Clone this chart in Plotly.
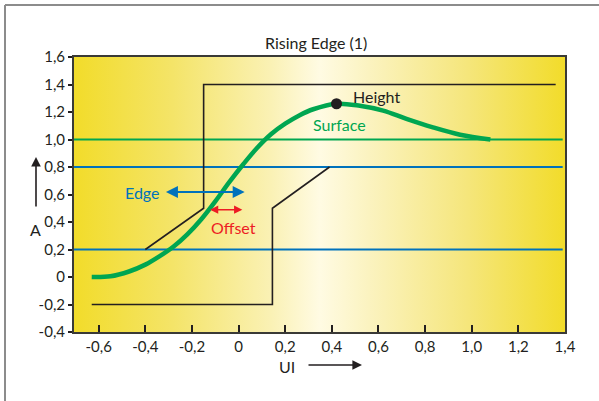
import plotly.graph_objects as go

# ---- data ----
x_range = [-0.706, 1.4]
y_range = [-0.4, 1.6]

x_ticks = [-0.6, -0.4, -0.2, 0, 0.2, 0.4, 0.6, 0.8, 1.0, 1.2, 1.4]
x_labels = ["-0,6", "-0,4", "-0,2", "0", "0,2", "0,4", "0,6", "0,8", "1,0", "1,2", "1,4"]
y_ticks = [-0.4, -0.2, 0, 0.2, 0.4, 0.6, 0.8, 1.0, 1.2, 1.4, 1.6]
y_labels = ["-0,4", "-0,2", "0", "0,2", "0,4", "0,6", "0,8", "1,0", "1,2", "1,4", "1,6"]

surface_x = [-0.63, -0.55, -0.47, -0.40, -0.34, -0.28, -0.22, -0.16, -0.10, -0.04,
             0.02, 0.08, 0.14, 0.20, 0.26, 0.32, 0.42, 0.52, 0.62, 0.72, 0.83, 0.95, 1.08]
surface_y = [0.00, 0.005, 0.04, 0.09, 0.15, 0.22, 0.31, 0.42, 0.55, 0.69,
             0.82, 0.94, 1.04, 1.115, 1.175, 1.22, 1.26, 1.245, 1.21, 1.15, 1.09, 1.035, 1.00]

peak_x = [0.42]
peak_y = [1.26]

step_early_x = [-0.40, -0.15, -0.15, 1.36]
step_early_y = [0.2, 0.5, 1.4, 1.4]
step_late_x = [-0.63, 0.145, 0.145, 0.39]
step_late_y = [-0.2, -0.2, 0.5, 0.8]

green_level = 1.0
blue_levels = [0.8, 0.2]
level_x_end = 1.39

edge_arrow_x = [-0.318, 0.026]
edge_arrow_y = 0.618
offset_arrow_x = [-0.129, 0.016]
offset_arrow_y = 0.49

# ---- styles ----
DARK = "#231f20"
GREEN = "#00a651"
BLUE = "#0072bc"
RED = "#ed1c24"
FONT = "Lato"

fig = go.Figure()

# gradient background
fig.add_trace(go.Scatter(
    x=[x_range[0], x_range[1], x_range[1], x_range[0], x_range[0]],
    y=[y_range[0], y_range[0], y_range[1], y_range[1], y_range[0]],
    fill="toself", mode="none", hoverinfo="skip", showlegend=False,
    fillgradient=dict(type="horizontal", colorscale=[
        [0.0, "#f2dc2a"], [0.2, "#f4e468"], [0.4, "#faf1b4"],
        [0.5, "#fffbe3"], [0.6, "#fbf3c0"], [0.8, "#f5e67c"], [1.0, "#f2dc2a"]]),
))

# reference levels
fig.add_trace(go.Scatter(x=[x_range[0], level_x_end], y=[green_level, green_level],
                         mode="lines", line=dict(color=GREEN, width=2), showlegend=False))
for lv in blue_levels:
    fig.add_trace(go.Scatter(x=[x_range[0], level_x_end], y=[lv, lv],
                             mode="lines", line=dict(color=BLUE, width=2), showlegend=False))

# black step waveforms
fig.add_trace(go.Scatter(x=step_early_x, y=step_early_y, mode="lines",
                         line=dict(color=DARK, width=1.6), showlegend=False))
fig.add_trace(go.Scatter(x=step_late_x, y=step_late_y, mode="lines",
                         line=dict(color=DARK, width=1.6), showlegend=False))

# surface curve
fig.add_trace(go.Scatter(x=surface_x, y=surface_y, mode="lines",
                         line=dict(color=GREEN, width=4.5, shape="spline", smoothing=1.0),
                         showlegend=False))
fig.add_trace(go.Scatter(x=peak_x, y=peak_y, mode="markers",
                         marker=dict(color=DARK, size=11), showlegend=False))

ann = []
# Edge / Offset arrows
ann.append(dict(x=edge_arrow_x[1], y=edge_arrow_y, ax=edge_arrow_x[0], ay=edge_arrow_y,
                xref="x", yref="y", axref="x", ayref="y", text="", showarrow=True,
                arrowside="end+start", arrowhead=2, arrowsize=1.2, arrowwidth=2,
                arrowcolor=BLUE, standoff=0, startstandoff=0))
ann.append(dict(x=offset_arrow_x[1], y=offset_arrow_y, ax=offset_arrow_x[0], ay=offset_arrow_y,
                xref="x", yref="y", axref="x", ayref="y", text="", showarrow=True,
                arrowside="end+start", arrowhead=2, arrowsize=1.1, arrowwidth=1.5,
                arrowcolor=RED, standoff=0, startstandoff=0))
# labels
LBL = 16
ann.append(dict(x=-0.33, y=edge_arrow_y, xref="x", yref="y", text="Edge", showarrow=False,
                xanchor="right", yanchor="middle", font=dict(family=FONT, size=LBL, color=BLUE)))
ann.append(dict(x=-0.021, y=0.359, xref="x", yref="y", text="Offset", showarrow=False,
                xanchor="center", yanchor="middle", font=dict(family=FONT, size=LBL, color=RED)))
ann.append(dict(x=0.48, y=1.316, xref="x", yref="y", text="Height", showarrow=False,
                xanchor="left", yanchor="middle", font=dict(family=FONT, size=LBL, color=DARK)))
ann.append(dict(x=0.431, y=1.11, xref="x", yref="y", text="Surface", showarrow=False,
                xanchor="center", yanchor="middle", font=dict(family=FONT, size=LBL, color=GREEN)))

# plot area pixel geometry helpers
L, T, W, H = 74, 57, 491, 275
def px(p):
    return (p - L) / W
def py(p):
    return (T + H - p) / H

# title
ann.append(dict(x=px(316), y=py(42), xref="paper", yref="paper", text="Rising Edge (1)",
                showarrow=False, xanchor="center", yanchor="middle",
                font=dict(family=FONT, size=16, color=DARK)))
# axis titles
ann.append(dict(x=px(35), y=py(229), xref="paper", yref="paper", text="A", showarrow=False,
                xanchor="center", yanchor="middle", font=dict(family=FONT, size=16, color=DARK)))
ann.append(dict(x=px(287), y=py(366), xref="paper", yref="paper", text="UI", showarrow=False,
                xanchor="center", yanchor="middle", font=dict(family=FONT, size=16, color=DARK)))
# axis direction arrows
ann.append(dict(x=px(36), y=py(157), xref="paper", yref="paper", axref="pixel", ayref="pixel",
                ax=0, ay=51, text="", showarrow=True, arrowhead=2, arrowsize=1.2,
                arrowwidth=1.6, arrowcolor=DARK, standoff=0))
ann.append(dict(x=px(362), y=py(365), xref="paper", yref="paper", axref="pixel", ayref="pixel",
                ax=-55, ay=0, text="", showarrow=True, arrowhead=2, arrowsize=1.2,
                arrowwidth=1.6, arrowcolor=DARK, standoff=0))

shapes = [
    dict(type="line", xref="paper", yref="paper", x0=px(5), x1=px(599), y0=py(5), y1=py(5),
         line=dict(color="#8c8c8c", width=2)),
    dict(type="line", xref="paper", yref="paper", x0=px(5), x1=px(5), y0=py(5), y1=py(401),
         line=dict(color="#8c8c8c", width=2)),
]

TICKF = dict(family=FONT, size=15, color=DARK)
fig.update_layout(
    width=599, height=401,
    margin=dict(l=L, r=599 - L - W, t=T, b=401 - T - H),
    paper_bgcolor="white", plot_bgcolor="white",
    showlegend=False,
    annotations=ann, shapes=shapes,
    font=dict(family=FONT, size=15, color=DARK),
    xaxis=dict(range=x_range, tickvals=x_ticks, ticktext=x_labels, ticks="inside",
               ticklen=7, tickwidth=1.5, tickcolor=DARK, showline=True, linecolor="#3a3a36",
               linewidth=2, mirror=True, showgrid=False, zeroline=False,
               tickfont=TICKF, fixedrange=True, automargin=False),
    yaxis=dict(range=y_range, tickvals=y_ticks, ticktext=y_labels, ticks="outside",
               ticklen=4, tickwidth=1.5, tickcolor=DARK, showline=True, linecolor="#3a3a36",
               linewidth=2, mirror=True, showgrid=False, zeroline=False,
               tickfont=TICKF, fixedrange=True, automargin=False),
)

fig.write_html("out.html", config={"displayModeBar": False},
               post_script="document.body.style.margin='0';document.body.style.overflow='hidden';")
